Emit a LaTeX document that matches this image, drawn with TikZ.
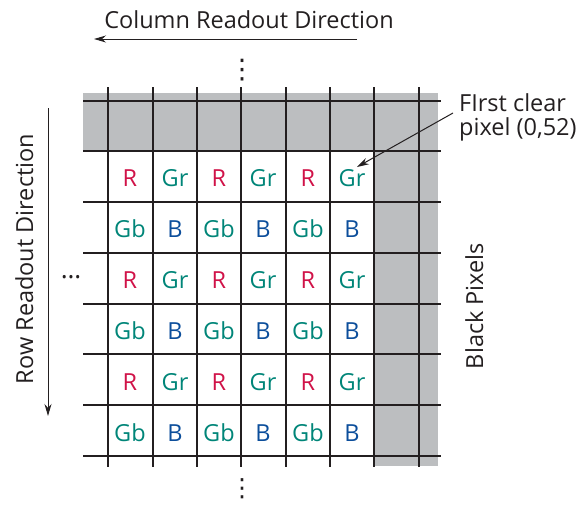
\documentclass[tikz,border=0pt]{standalone}
\usepackage{fontspec}
\setmainfont{Open Sans}
\newfontfamily\djv{DejaVu Sans}
\usetikzlibrary{arrows.meta}
\definecolor{pxred}{RGB}{208,18,72}
\definecolor{pxteal}{RGB}{0,133,120}
\definecolor{pxblue}{RGB}{12,78,155}
\definecolor{pxgray}{RGB}{188,190,192}
\definecolor{pxline}{RGB}{35,31,32}
\begin{document}
\begin{tikzpicture}[x=1pt,y=-1pt,
  gridline/.style={draw=pxline,line width=1.9pt},
  cell/.style={anchor=base,inner sep=0pt,font=\fontsize{23.5}{26}\selectfont},
  cellR/.style={cell,text=pxred},
  cellG/.style={cell,text=pxteal},
  cellB/.style={cell,text=pxblue},
  lbl/.style={text=pxline,font=\fontsize{23.5}{24}\selectfont,inner sep=0pt},
  arr/.style={draw=pxline,line width=1pt,-{Stealth[length=12pt,width=7pt]}}]
\useasboundingbox (0,0) rectangle (584,504);
% gray black pixel regions
\fill[pxgray] (83,93) rectangle (438,151);
\fill[pxgray] (374,93) rectangle (438,466);
% grid
\foreach \yy in {101,151,202,253,304,354,405,456}
  \draw[gridline] (83,\yy) -- (441,\yy);
\foreach \xx in {108,153,197,241,286,330,374,419}
  \draw[gridline] (\xx,87) -- (\xx,467);
% cells (baselines)
\foreach \r/\yy in {1/186,3/288,5/390}{
  \node[cellR] (c\r1) at (130,\yy) {R};
  \node[cellG] (c\r2) at (175,\yy) {Gr};
  \node[cellR] (c\r3) at (219,\yy) {R};
  \node[cellG] (c\r4) at (263,\yy) {Gr};
  \node[cellR] (c\r5) at (308,\yy) {R};
  \node[cellG] (c\r6) at (352,\yy) {Gr};
}
\foreach \r/\yy in {2/237,4/339,6/441}{
  \node[cellG] (c\r1) at (130,\yy) {Gb};
  \node[cellB] (c\r2) at (175,\yy) {B};
  \node[cellG] (c\r3) at (219,\yy) {Gb};
  \node[cellB] (c\r4) at (263,\yy) {B};
  \node[cellG] (c\r5) at (308,\yy) {Gb};
  \node[cellB] (c\r6) at (352,\yy) {B};
}
% ellipses
\node[lbl,font=\djv\fontsize{27}{27}\selectfont] (dtop) at (242,70) {⋮};
\node[lbl,font=\djv\fontsize{25}{25}\selectfont] (dbot) at (242,489) {⋮};
\node[lbl,font=\fontsize{26}{26}\selectfont,anchor=base] (dleft) at (71,278) {…};
% column readout
\node[lbl,anchor=base] (coltxt) at (249,28) {Column Readout Direction};
\coordinate (cs) at (357,39);
\coordinate (ce) at (94,39);
\draw[arr] (cs) -- (ce);
% row readout
\node[lbl,rotate=90,anchor=base] (rowtxt) at (33,259) {Row Readout Direction};
\coordinate (rs) at (48,108);
\coordinate (re) at (48,416);
\draw[arr] (rs) -- (re);
% black pixels
\node[lbl,rotate=90,anchor=base] (black) at (483,306) {Black Pixels};
% first clear pixel
\node[lbl,align=left,anchor=north west] (first) at (459,93) {FIrst clear\\pixel (0,52)};
\coordinate (fs) at (453,113);
\draw[arr] (fs) -- (357,167);
\end{tikzpicture}
\end{document}
